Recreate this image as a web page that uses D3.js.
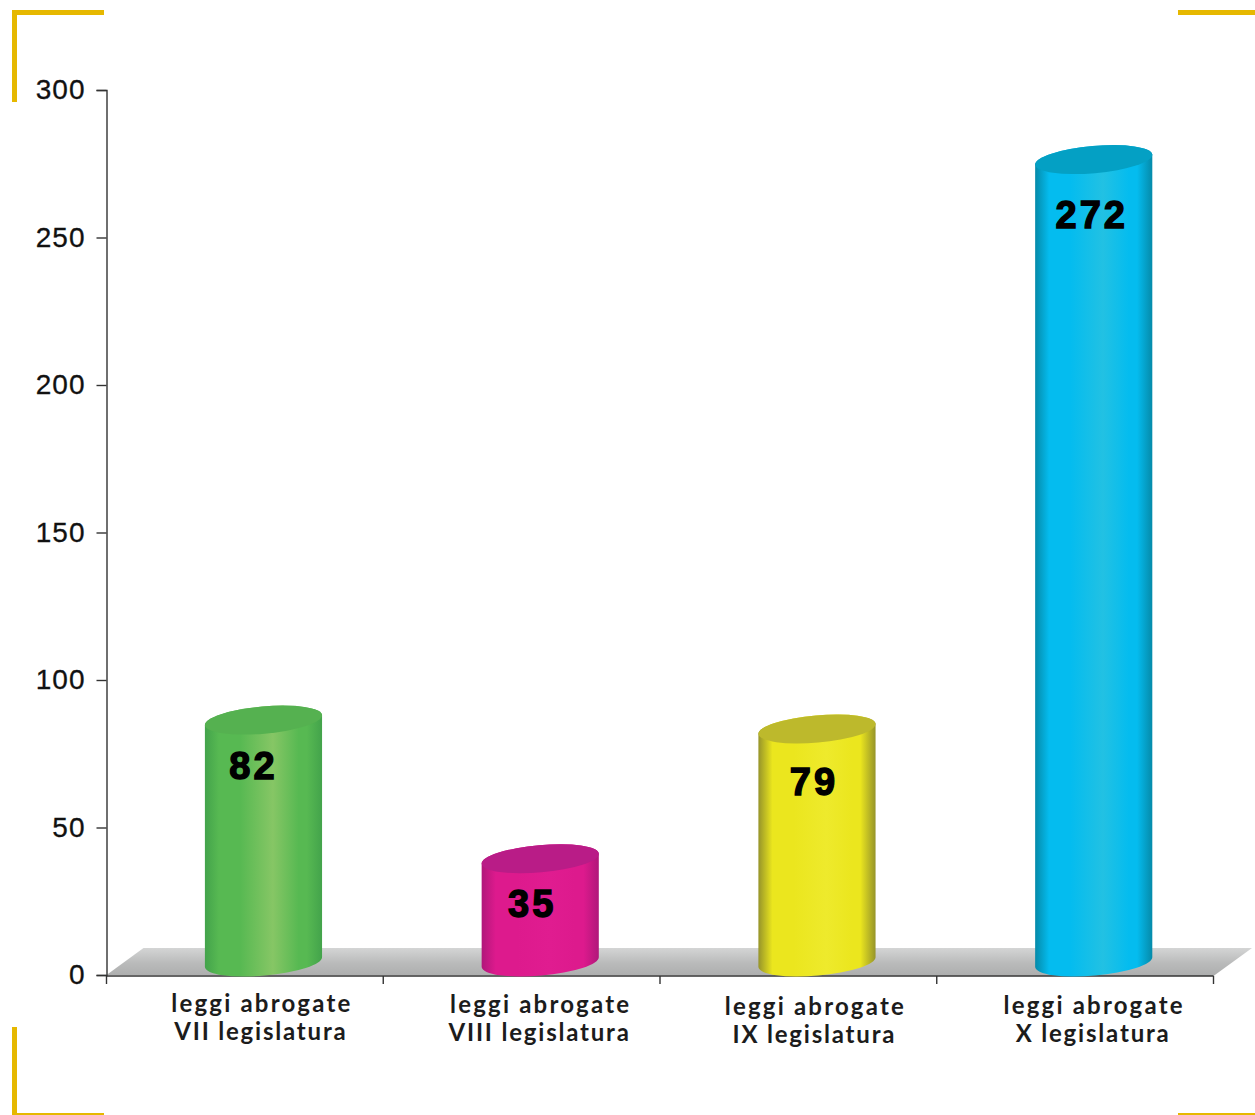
<!DOCTYPE html>
<html>
<head>
<meta charset="utf-8">
<script src="https://cdn.jsdelivr.net/npm/d3@7/dist/d3.min.js"></script>
<style>html,body{margin:0;padding:0;background:#fff;overflow:hidden}svg{display:block}</style>
</head>
<body>
<svg id="chart" width="1255" height="1115"></svg>
<script>
const categories = ["VII", "VIII", "IX", "X"];
const values = [82, 35, 79, 272];
const labelFirstLine = ["leggi abrogate", "leggi abrogate", "leggi abrogate", "leggi abrogate"];
const labelSecondLine = ["VII legislatura", "VIII legislatura", "IX legislatura", "X legislatura"];
const yTicks = [0, 50, 100, 150, 200, 250, 300];
const edgeColors = ["#43a34b", "#b0177a", "#96942a", "#058aa9"];
const baseColors = ["#57b952", "#dd1a8d", "#ebe61e", "#04bcef"];
const lightColors = ["#86c665", "#e01c90", "#eeea2c", "#22c1e3"];
const capColors = ["#55b150", "#b91c87", "#bdb92c", "#04a0c4"];
const valueNudgeX = [-10, -8, -3, -2];
const valueNudgeY = [0, -1, 7, 9];
const tickLabelNudgeY = [0, 1, 3, 2];
const tickLabelNudgeX = [0, 2, 0, 2];

const svg = d3.select("#chart");
const axisLeft = 106.5, axisRight = 1213.5, axisTop = 90, axisBottom = 975;
const y = d3.scaleLinear().domain([0, 300]).range([axisBottom, axisTop]);
const x = d3.scaleBand().domain(categories).range([axisLeft, axisRight]);
const rx = 58.8, ry = 13.6, tilt = -5, depth = 18.6, baseLift = 13;
const dyChord = rx * Math.sin(tilt * Math.PI / 180);
const dxChord = rx * Math.cos(tilt * Math.PI / 180);

const defs = svg.append("defs");
const floorGrad = defs.append("linearGradient").attr("id", "floor").attr("x1", 0).attr("x2", 0).attr("y1", 0).attr("y2", 1);
floorGrad.append("stop").attr("offset", 0).attr("stop-color", "#d4d5d5");
floorGrad.append("stop").attr("offset", 0.55).attr("stop-color", "#b9baba");
floorGrad.append("stop").attr("offset", 1).attr("stop-color", "#adaeae");

categories.forEach((c, i) => {
  const g = defs.append("linearGradient").attr("id", "cyl" + i).attr("x1", 0).attr("x2", 1).attr("y1", 0).attr("y2", 0);
  [[0, edgeColors[i]], [0.12, baseColors[i]], [0.3, baseColors[i]], [0.58, lightColors[i]], [0.8, baseColors[i]], [0.87, baseColors[i]], [1, edgeColors[i]]]
    .forEach(([o, col]) => g.append("stop").attr("offset", o).attr("stop-color", col));
});

// yellow corner brackets
const brackets = [
  [12, 10, 92, 5], [12, 10, 5, 92], [1178, 10, 77, 5],
  [12, 1027, 5, 88], [12, 1113, 92, 2], [1178, 1113, 77, 2]
];
svg.append("g").selectAll("rect").data(brackets).join("rect")
  .attr("x", d => d[0]).attr("y", d => d[1]).attr("width", d => d[2]).attr("height", d => d[3])
  .attr("fill", "#e6b800");

// floor
svg.append("path")
  .attr("d", `M${axisLeft},${axisBottom}L${axisLeft + 37},948L1252,948L${axisRight},${axisBottom + 1}Z`)
  .attr("fill", "url(#floor)");

// axes
const yAxis = d3.axisLeft(y).tickValues(yTicks).tickSize(10).tickFormat(d3.format("d"));
const gy = svg.append("g").attr("transform", `translate(${axisLeft},0)`).call(yAxis);
gy.selectAll(".domain,line").attr("stroke", "#333").attr("stroke-width", 1.4);
gy.selectAll("text").attr("font-family", "'Liberation Sans', Arial, sans-serif").attr("font-size", 28)
  .attr("letter-spacing", 1).attr("fill", "#111").attr("stroke", "#111").attr("stroke-width", 0.3)
  .attr("x", -21).attr("dy", "0.32em");

const gx = svg.append("g").attr("transform", `translate(0,${axisBottom + 1})`);
gx.append("line").attr("x1", axisLeft).attr("x2", axisRight).attr("stroke", "#333").attr("stroke-width", 1.6);
const tickEdges = categories.map(c => x(c)).concat([axisRight]);
gx.selectAll("line.t").data(tickEdges).join("line").attr("class", "t")
  .attr("x1", d => d).attr("x2", d => d).attr("y1", 0).attr("y2", 8)
  .attr("stroke", "#333").attr("stroke-width", 1.4);

// cylinders
const cyl = svg.append("g").selectAll("g").data(values).join("g");
const cx = (i) => x(categories[i]) + x.bandwidth() / 2 + depth;
const baseCy = axisBottom - baseLift;
cyl.append("path")
  .attr("d", (v, i) => {
    const c = cx(i), top = baseCy - (axisBottom - y(v));
    return `M${c - dxChord},${top - dyChord}L${c - dxChord},${baseCy - dyChord}` +
      `A${rx},${ry} ${tilt} 0 0 ${c + dxChord},${baseCy + dyChord}` +
      `L${c + dxChord},${top + dyChord}` +
      `A${rx},${ry} ${tilt} 0 0 ${c - dxChord},${top - dyChord}Z`;
  })
  .attr("fill", (v, i) => `url(#cyl${i})`);
cyl.append("ellipse")
  .attr("rx", rx).attr("ry", ry)
  .attr("transform", (v, i) => `translate(${cx(i)},${baseCy - (axisBottom - y(v))}) rotate(${tilt})`)
  .attr("fill", (v, i) => capColors[i]);

// value labels
cyl.append("text")
  .text(v => v)
  .attr("x", (v, i) => cx(i) + valueNudgeX[i])
  .attr("y", (v, i) => baseCy - (axisBottom - y(v)) + 59 + valueNudgeY[i])
  .attr("text-anchor", "middle")
  .attr("font-family", "'Liberation Sans', Arial, sans-serif")
  .attr("font-weight", 700).attr("font-size", 38)
  .attr("letter-spacing", 3)
  .attr("fill", "#000").attr("stroke", "#000").attr("stroke-width", 1.4);

// category labels
const labels = svg.append("g").selectAll("text").data(categories).join("text")
  .attr("text-anchor", "middle")
  .attr("font-family", "Lato, sans-serif").attr("font-weight", 700).attr("font-size", 24)
  .attr("fill", "#1c1c1c");
labels.append("tspan")
  .attr("letter-spacing", 2.2)
  .attr("x", (c, i) => x(c) + x.bandwidth() / 2 + 17 + tickLabelNudgeX[i])
  .attr("y", (c, i) => 1012 + tickLabelNudgeY[i])
  .text((c, i) => labelFirstLine[i]);
labels.append("tspan")
  .attr("letter-spacing", 1.8)
  .attr("x", (c, i) => x(c) + x.bandwidth() / 2 + 16 + tickLabelNudgeX[i])
  .attr("y", (c, i) => 1040 + tickLabelNudgeY[i])
  .text((c, i) => labelSecondLine[i]);
</script>
</body>
</html>
